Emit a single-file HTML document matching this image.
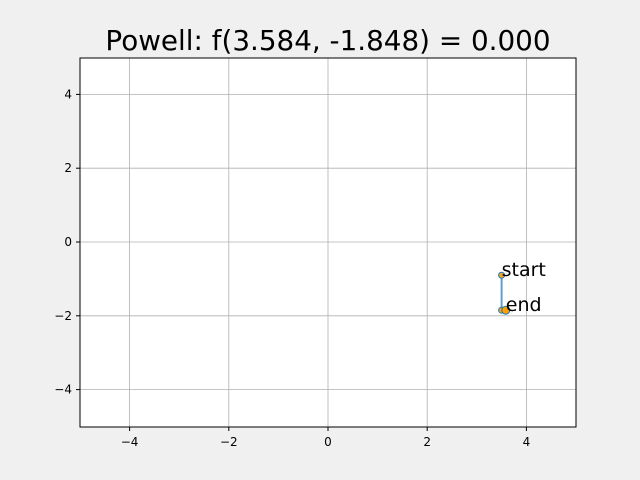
<!DOCTYPE html>
<html><head><meta charset="utf-8"><style>body{margin:0;background:#f0f0f0}svg{display:block;font-family:"DejaVu Sans","Liberation Sans",sans-serif}</style></head>
<body>
<svg id="c" width="640" height="480">
<rect width="640" height="480" fill="#f0f0f0"/>
<rect x="80" y="58" width="496" height="369" fill="#fff"/>
<text x="328" y="50" font-size="27.8" text-anchor="middle">Powell: f(3.584, -1.848) = 0.000</text>
<g id="grid"></g><g id="marks"></g>
<rect x="80" y="58" width="496" height="369" fill="none" stroke="#000" stroke-width="1"/>
</svg>
<script>
const xTicks=[-4,-2,0,2,4];
const yTicks=[-4,-2,0,2,4];
const pathX=[3.5,3.5,3.584];
const pathY=[-0.9,-1.848,-1.848];
const X=v=>328+v*49.6, Y=v=>242-v*36.9;
const ns="http://www.w3.org/2000/svg";
function mk(t,a,p){const e=document.createElementNS(ns,t);for(const k in a)e.setAttribute(k,a[k]);p.appendChild(e);return e;}
const g=document.getElementById('grid'),m=document.getElementById('marks');
xTicks.forEach(v=>{
 const l=mk('line',{x1:X(v),x2:X(v),y1:58,y2:427,stroke:'#b0b0b0','stroke-width':0.8},g);
 
 
 mk('line',{x1:X(v),x2:X(v),y1:427,y2:431,stroke:'#000'},g);
 const t=mk('text',{x:X(v),y:446,'font-size':12,'text-anchor':'middle'},g);t.textContent=v<0?'\u2212'+(-v):v;
 
 
});
yTicks.forEach(v=>{
 const l=mk('line',{x1:80,x2:576,y1:Y(v),y2:Y(v),stroke:'#b0b0b0','stroke-width':0.8},g);
 
 
 mk('line',{x1:76,x2:80,y1:Y(v),y2:Y(v),stroke:'#000'},g);
 const t=mk('text',{x:72,y:Y(v)+4,'font-size':12,'text-anchor':'end'},g);t.textContent=v<0?'\u2212'+(-v):v;
 
 
});
const pl=mk('polyline',{points:pathX.map((x,i)=>X(x)+','+Y(pathY[i])).join(' '),fill:'none',stroke:'#1f77b4','stroke-width':2,'stroke-opacity':0.7},m);


pathX.forEach((x,i)=>{
 const c=mk('circle',{cx:X(x),cy:Y(pathY[i]),r:3,fill:'#f5a623',stroke:'#1f77b4','stroke-width':1},m);
 
 
});
const n=pathX.length-1;
const e=mk('circle',{cx:X(pathX[n]),cy:Y(pathY[n]),r:4,fill:'#ff9f00',stroke:'#1f77b4','stroke-width':1},m);


const ts=mk('text',{x:X(pathX[0]),y:Y(pathY[0])+1,'font-size':19},m);ts.textContent='start';


const te=mk('text',{x:X(pathX[n]),y:Y(pathY[n])+1,'font-size':19},m);te.textContent='end';


</script>
</body></html>
